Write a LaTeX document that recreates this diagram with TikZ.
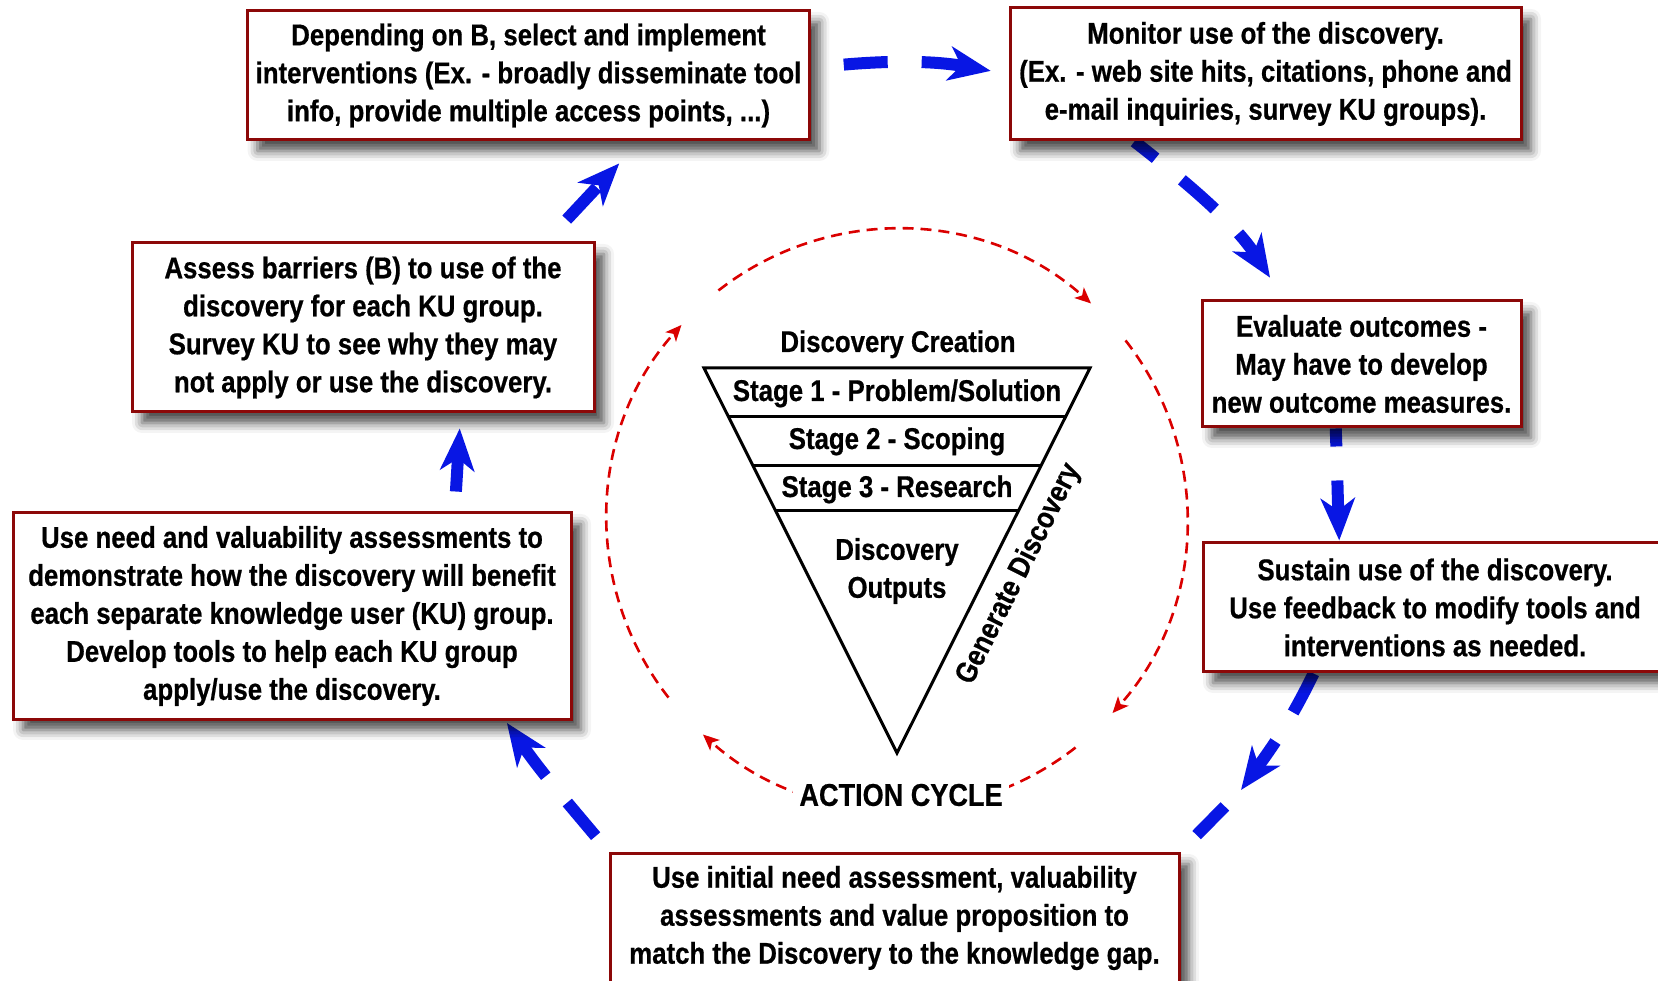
\documentclass[tikz,border=0pt]{standalone}
\usepackage{fontspec}
\setmainfont{Liberation Sans}[FakeStretch=0.86, BoldFeatures={FakeBold=0.6}]
\usetikzlibrary{positioning, arrows.meta, calc, backgrounds, shadows.blur}
\definecolor{boxred}{RGB}{140,8,8}
\definecolor{flowblue}{RGB}{8,22,228}
\definecolor{cyclered}{RGB}{218,0,0}
\tikzset{
    actionbox/.style={draw=boxred, line width=1.5pt, fill=white, align=center, inner sep=4pt,
        blur shadow={shadow xshift=5pt, shadow yshift=-5.5pt, shadow blur radius=5pt, shadow opacity=70}},
    flow/.style={flowblue, line width=6pt, dash pattern=on 22pt off 17pt,
        -{Stealth[length=21pt, width=17pt, inset=6pt]}},
    cyclearc/.style={cyclered, line width=1.3pt, dash pattern=on 5.5pt off 3.5pt,
        -{Stealth[length=8pt, width=7pt, inset=2pt]}},
    funnel/.style={line width=1.5pt, line join=miter}
}

\begin{document}
\begin{tikzpicture}[x=0.5pt, y=0.5pt, font=\fontsize{15}{19}\selectfont\bfseries]
    \useasboundingbox (0,0) rectangle (1658,980);
    % Steps of the action cycle
    \node (A) [actionbox, minimum width=278.5pt, minimum height=64.5pt] at (528.5,904.5) {Depending on B, select and implement\\interventions (Ex. - broadly disseminate tool\\info, provide multiple access points, ...)};
    \node (B) [actionbox, minimum width=255.5pt, minimum height=66pt] at (1265.5,906) {Monitor use of the discovery.\\(Ex. - web site hits, citations, phone and\\e-mail inquiries, survey KU groups).};
    \node (C) [actionbox, minimum width=159.5pt, minimum height=63pt] at (1361.5,616) {Evaluate outcomes -\\May have to develop\\new outcome measures.};
    \node (D) [actionbox, minimum width=232pt, minimum height=64.5pt] at (1435,372.5) {Sustain use of the discovery.\\Use feedback to modify tools and\\interventions as needed.};
    \node (E) [actionbox, minimum width=284.5pt, minimum height=65pt] at (894.5,62) {Use initial need assessment, valuability\\assessments and value proposition to\\match the Discovery to the knowledge gap.};
    \node (F) [actionbox, minimum width=279pt, minimum height=103pt] at (292,364) {Use need and valuability assessments to\\demonstrate how the discovery will benefit\\each separate knowledge user (KU) group.\\Develop tools to help each KU group\\apply/use the discovery.};
    \node (G) [actionbox, minimum width=231pt, minimum height=84.5pt] at (363,652.5) {Assess barriers (B) to use of the\\discovery for each KU group.\\Survey KU to see why they may\\not apply or use the discovery.};
    \coordinate (dtip) at (1241,190);
    % Blue arrows between the steps
    \begin{scope}[on background layer]
        \draw [flow, shorten <=16.5pt, shorten >=9pt] ([yshift=4pt]A.east) to[out=5, in=170] (B.west);
        \draw [flow, dash phase=8.5pt, shorten >=13pt] ($(B.south west)!0.245!(B.south east)$) to[out=-38, in=123] ($(C.north west)!0.26!(C.north east)$);
        \draw [flow, dash phase=13pt, shorten >=0.5pt] ($(C.south west)!0.42!(C.south east)$) to[out=-88, in=92] ($(D.north west)!0.295!(D.north east)$);
        \draw [flow] ($(D.south west)!0.24!(D.south east)$) to[out=-116, in=54] (dtip);
        \draw [flow, -, shorten <=11.5pt, shorten >=11.5pt] (dtip) -- (E.north east);
        \draw [flow, shorten <=10pt, shorten >=1.5pt] (E.north west) to[out=130, in=-55] ($(F.south west)!0.88!(F.south east)$);
        \draw [flow, shorten <=10pt, shorten >=7.5pt] ($(F.north west)!0.79!(F.north east)$) -- ($(G.south west)!0.71!(G.south east)$);
        \draw [flow, shorten <=15pt, shorten >=15pt] ($(G.north west)!0.894!(G.north east)$) -- ($(A.south west)!0.697!(A.south east)$);
    \end{scope}
    % Discovery creation funnel
    \coordinate (hub) at (897,461);
    \coordinate (tl) at (704,612);
    \coordinate (tr) at (1090,612);
    \coordinate (apex) at (897,227);
    \draw [funnel] (tl) -- (tr) -- (apex) -- cycle;
    \foreach \f in {0.127,0.252,0.371}
        \draw [funnel] ($(tl)!\f!(apex)$) -- ($(tr)!\f!(apex)$);
    \node (creation) [anchor=base] at (898,628) {Discovery Creation};
    \node (stage1) [anchor=base] at (897,579) {Stage 1 - Problem/Solution};
    \node (stage2) [anchor=base] at (897,531) {Stage 2 - Scoping};
    \node (stage3) [anchor=base] at (897,483) {Stage 3 - Research};
    \node (outputs) [align=center] at (897,409) {Discovery\\Outputs};
    \node (generate) [rotate=63.4] at (1019,406) {Generate Discovery};
    % Red action cycle
    \foreach \a/\b in {128/48, 38/-42, -52/-132, -142/-222}
        \draw [cyclearc] ([shift={(hub)}]\a:290) arc[start angle=\a, end angle=\b, radius=290];
    \node (cyclelabel) [fill=white, inner sep=3pt, scale=1.05] at (901,185) {ACTION CYCLE};
\end{tikzpicture}
\end{document}
